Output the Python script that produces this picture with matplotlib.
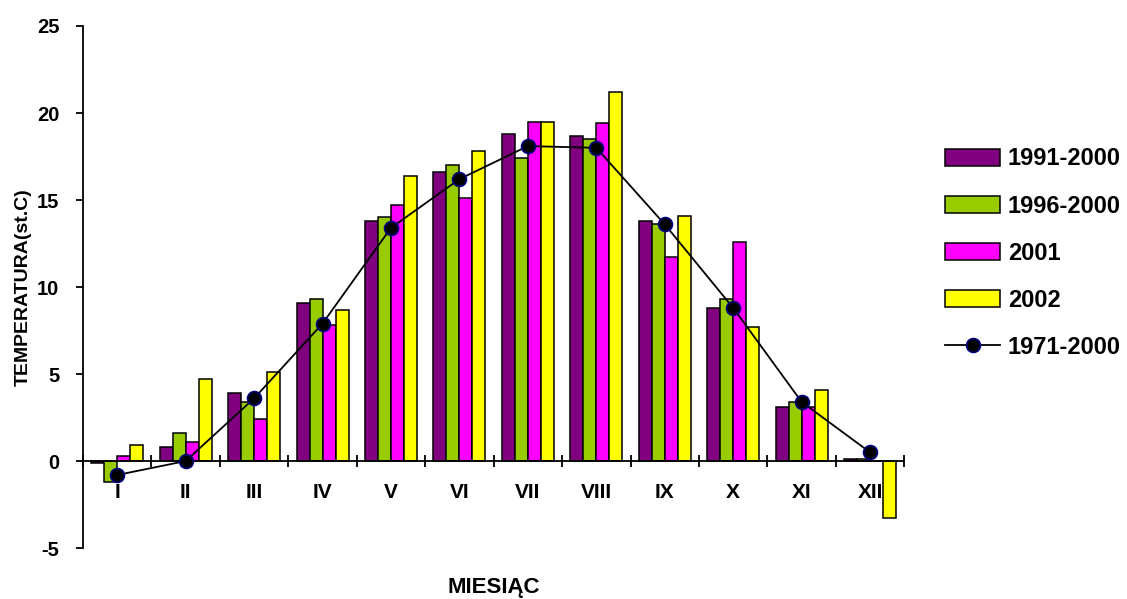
import matplotlib
matplotlib.use("Agg")
import matplotlib.pyplot as plt
import numpy as np

plt.rcParams['axes.unicode_minus'] = False

# Data
months = ['I', 'II', 'III', 'IV', 'V', 'VI', 'VII', 'VIII', 'IX', 'X', 'XI', 'XII']
t_1991_2000 = [-0.1, 0.8, 3.9, 9.1, 13.8, 16.6, 18.8, 18.7, 13.8, 8.8, 3.1, 0.1]
t_1996_2000 = [-1.2, 1.6, 3.4, 9.3, 14.0, 17.0, 17.4, 18.5, 13.6, 9.3, 3.4, 0.1]
t_2001 = [0.3, 1.1, 2.4, 7.8, 14.7, 15.1, 19.5, 19.4, 11.7, 12.6, 3.1, 0.0]
t_2002 = [0.9, 4.7, 5.1, 8.7, 16.4, 17.8, 19.5, 21.2, 14.1, 7.7, 4.1, -3.3]
t_1971_2000 = [-0.8, 0.0, 3.6, 7.9, 13.4, 16.2, 18.1, 18.0, 13.6, 8.8, 3.4, 0.5]

series = [t_1991_2000, t_1996_2000, t_2001, t_2002]
names = ['1991-2000', '1996-2000', '2001', '2002']
colors = ['#800080', '#99CC00', '#FF00FF', '#FFFF00']

font = 'Liberation Sans'

fig = plt.figure(figsize=(11.27, 5.99), dpi=100)
ax = fig.add_axes([0.0736, 0.085, 0.7288, 0.8716])

x = np.arange(len(months))
w = 0.19
for i, (vals, name, c) in enumerate(zip(series, names, colors)):
    ax.bar(x + (i - 1.5) * w, vals, w, color=c, edgecolor='black',
           linewidth=1.1, label=name, zorder=2)

ax.plot(x, t_1971_2000, color='black', linewidth=1.3, marker='o',
        markersize=10, markerfacecolor='black', markeredgecolor='#000080',
        markeredgewidth=1.2, label='1971-2000', zorder=3)

# Axes look
ax.set_xlim(-0.5, 11.5)
ax.set_ylim(-5, 25)
ax.set_yticks(np.arange(-5, 26, 5))
ax.spines['top'].set_visible(False)
ax.spines['right'].set_visible(False)
ax.spines['bottom'].set_position(('data', 0))
ax.spines['left'].set_linewidth(1.3)
ax.spines['bottom'].set_linewidth(1.3)

ax.set_xticks(x)
ax.set_xticklabels(months)
ax.set_xticks(np.arange(-0.5, 12, 1), minor=True)
ax.tick_params(axis='x', which='major', length=0, pad=16)
ax.tick_params(axis='x', which='minor', direction='inout', length=9, width=1.3)
ax.tick_params(axis='y', direction='out', length=5, width=1.3, pad=12)
for lab in ax.get_xticklabels():
    lab.set_fontfamily(font)
    lab.set_fontweight('bold')
    lab.set_fontsize(15)
for lab in ax.get_yticklabels():
    lab.set_fontfamily(font)
    lab.set_fontweight('bold')
    lab.set_fontsize(14.5)

ax.set_xlabel('MIESIĄC', fontfamily=font, fontweight='bold', fontsize=16)
ax.xaxis.set_label_coords(0.5, -0.055)
ax.set_ylabel('TEMPERATURA(st.C)', fontfamily=font, fontweight='bold', fontsize=14)
ax.yaxis.set_label_coords(-0.062, 0.5)

handles, labels = ax.get_legend_handles_labels()
order = [1, 2, 3, 4, 0]
leg = ax.legend([handles[i] for i in order], [labels[i] for i in order],
                loc='center left', bbox_to_anchor=(1.05, 0.565), frameon=False,
                borderpad=0, borderaxespad=0,
                handlelength=2.3, handleheight=0.75, handletextpad=0.35,
                labelspacing=1.02, numpoints=1,
                prop={'family': font, 'weight': 'bold', 'size': 17})

fig.savefig('out.png', dpi=100)
